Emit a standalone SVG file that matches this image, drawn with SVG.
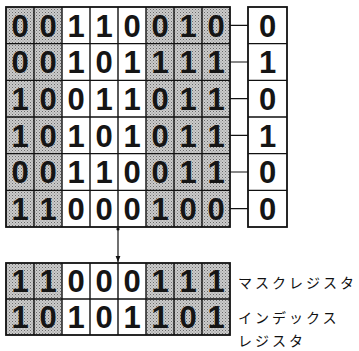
<svg xmlns="http://www.w3.org/2000/svg" width="359" height="351" viewBox="0 0 359 351">
<defs>
<pattern id="ht" width="3" height="3" patternUnits="userSpaceOnUse">
<rect width="3" height="3" fill="#cccccc"/>
<rect x="0" y="0" width="1" height="1" fill="#6a6a6a"/>
<rect x="1.5" y="1.5" width="1" height="1" fill="#8a8a8a"/>
</pattern>
<marker id="ah" viewBox="0 0 10 10" refX="10" refY="5" markerWidth="5" markerHeight="5" orient="auto">
<path d="M0,1 L10,5 L0,9 z" fill="#111"/>
</marker>
</defs>
<style>
.sh{fill:url(#ht);stroke:none}
.wh{fill:#fff;stroke:none}
.gl{fill:none;stroke:#111;stroke-width:1.4}
.ob{fill:none;stroke:#111;stroke-width:1.8}
.d{font-family:"Liberation Sans",Arial,sans-serif;font-weight:bold;font-size:31px;fill:#151515;text-anchor:middle}
.lb{font-family:"Noto Sans CJK JP",sans-serif;font-size:14px;fill:#111;letter-spacing:3px}
.cn{fill:none;stroke:#111;stroke-width:1.2}
</style>
<rect width="359" height="351" fill="#fff"/>

<g id="matrix">
<rect class="sh" x="6" y="7" width="56" height="220"/>
<rect class="wh" x="62" y="7" width="84" height="220"/>
<rect class="sh" x="146" y="7" width="84" height="220"/>
<path class="gl" d="M34,7V227M62,7V227M90,7V227M118,7V227M146,7V227M174,7V227M202,7V227M6,43.67H230M6,80.33H230M6,117H230M6,153.67H230M6,190.33H230"/>
<rect class="ob" x="6" y="7" width="224" height="220"/>
<g class="d">
<text x="20" y="36.5">0</text><text x="48" y="36.5">0</text><text x="76" y="36.5">1</text><text x="104" y="36.5">1</text><text x="132" y="36.5">0</text><text x="160" y="36.5">0</text><text x="188" y="36.5">1</text><text x="216" y="36.5">0</text>
<text x="20" y="73.2">0</text><text x="48" y="73.2">0</text><text x="76" y="73.2">1</text><text x="104" y="73.2">0</text><text x="132" y="73.2">1</text><text x="160" y="73.2">1</text><text x="188" y="73.2">1</text><text x="216" y="73.2">1</text>
<text x="20" y="109.9">1</text><text x="48" y="109.9">0</text><text x="76" y="109.9">0</text><text x="104" y="109.9">1</text><text x="132" y="109.9">1</text><text x="160" y="109.9">0</text><text x="188" y="109.9">1</text><text x="216" y="109.9">1</text>
<text x="20" y="146.5">1</text><text x="48" y="146.5">0</text><text x="76" y="146.5">1</text><text x="104" y="146.5">0</text><text x="132" y="146.5">1</text><text x="160" y="146.5">0</text><text x="188" y="146.5">1</text><text x="216" y="146.5">1</text>
<text x="20" y="183.2">0</text><text x="48" y="183.2">0</text><text x="76" y="183.2">1</text><text x="104" y="183.2">1</text><text x="132" y="183.2">0</text><text x="160" y="183.2">0</text><text x="188" y="183.2">1</text><text x="216" y="183.2">1</text>
<text x="20" y="219.9">1</text><text x="48" y="219.9">1</text><text x="76" y="219.9">0</text><text x="104" y="219.9">0</text><text x="132" y="219.9">0</text><text x="160" y="219.9">1</text><text x="188" y="219.9">0</text><text x="216" y="219.9">0</text>
</g>
</g>

<g id="result">
<rect fill="#fff" x="248" y="7" width="39" height="220"/>
<path class="gl" d="M248,43.67H287M248,80.33H287M248,117H287M248,153.67H287M248,190.33H287"/>
<rect class="ob" x="248" y="7" width="39" height="220"/>
<g class="d">
<text x="267.5" y="36.5">0</text><text x="267.5" y="73.2">1</text><text x="267.5" y="109.9">0</text><text x="267.5" y="146.5">1</text><text x="267.5" y="183.2">0</text><text x="267.5" y="219.9">0</text>
</g>
</g>

<g id="registers">
<rect class="sh" x="6" y="263" width="56" height="72"/>
<rect class="wh" x="62" y="263" width="84" height="72"/>
<rect class="sh" x="146" y="263" width="84" height="72"/>
<path class="gl" d="M34,263V335M62,263V335M90,263V335M118,263V335M146,263V335M174,263V335M202,263V335M6,299H230"/>
<rect class="ob" x="6" y="263" width="224" height="72"/>
<g class="d">
<text x="20" y="292.2">1</text><text x="48" y="292.2">1</text><text x="76" y="292.2">0</text><text x="104" y="292.2">0</text><text x="132" y="292.2">0</text><text x="160" y="292.2">1</text><text x="188" y="292.2">1</text><text x="216" y="292.2">1</text>
<text x="20" y="328.2">1</text><text x="48" y="328.2">0</text><text x="76" y="328.2">1</text><text x="104" y="328.2">0</text><text x="132" y="328.2">1</text><text x="160" y="328.2">1</text><text x="188" y="328.2">0</text><text x="216" y="328.2">1</text>
</g>
</g>

<g id="labels">
<text class="lb" x="238" y="288">マスクレジスタ</text>
<text class="lb" x="238" y="323">インデックス</text>
<text class="lb" x="238" y="346">レジスタ</text>
</g>

<g id="connectors">
<path class="cn" d="M230,25.3H248M230,62H248M230,98.7H248M230,135.3H248M230,172H248M230,208.7H248"/>
<circle cx="118" cy="229" r="1.6" fill="#111"/>
<path class="cn" d="M118,229V262" marker-end="url(#ah)"/>
</g>
</svg>
